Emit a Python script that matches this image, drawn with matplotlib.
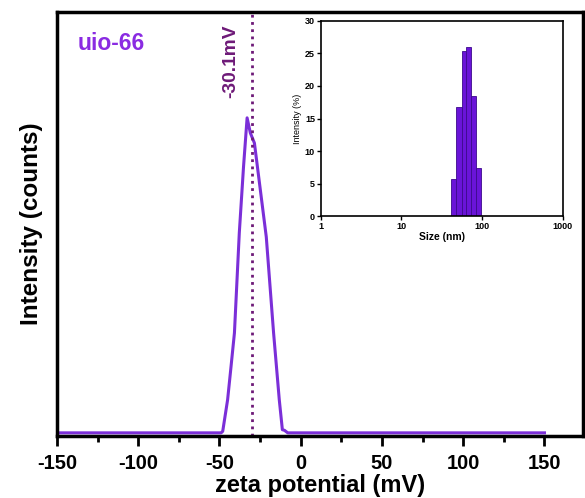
import numpy as np
import matplotlib
matplotlib.use("Agg")
import matplotlib.pyplot as plt
from matplotlib.ticker import MultipleLocator

plt.rcParams['font.family'] = ['Liberation Sans', 'DejaVu Sans']
plt.rcParams['font.weight'] = 'bold'
plt.rcParams['axes.unicode_minus'] = False

# zeta potential distribution (normalised counts)
zeta_mv = [-150, -100, -60, -49, -48, -45, -42.9, -40.8, -37.8, -35.2, -33, -31,
           -28.5, -21.2, -16.7, -13.2, -11.3, -10, -8, 0, 50, 100, 150]
intensity = [0, 0, 0, 0, 0.005, 0.105, 0.21, 0.317, 0.635, 0.845, 1.0, 0.952,
             0.92, 0.622, 0.317, 0.105, 0.01, 0.008, 0, 0, 0, 0, 0]
zeta_peak = -30.1

# inset size distribution
size_edges = [41.8, 48.2, 56.1, 64.1, 74.0, 85.3, 98.4]
size_pct = [5.7, 16.7, 25.4, 26.0, 18.5, 7.4]

line_col = '#7b2fd8'
dot_col = '#6e1a78'

fig = plt.figure(figsize=(5.85, 4.98), dpi=100)
ax = fig.add_axes([0.0974, 0.1245, 0.9, 0.8514])
ax.plot(zeta_mv, intensity, color=line_col, lw=2.2)
ax.axvline(zeta_peak, color=dot_col, lw=2, ls=(0, (1, 1.6)))
ax.set_xlim(-150, 174)
ax.set_ylim(-0.01, 1.336)
ax.xaxis.set_major_locator(MultipleLocator(50))
ax.xaxis.set_minor_locator(MultipleLocator(25))
ax.tick_params(axis='x', which='major', direction='out', length=7, width=2,
               labelsize=14.5, pad=6)
ax.tick_params(axis='x', which='minor', direction='out', length=4, width=2)
ax.set_yticks([])
for s in ax.spines.values():
    s.set_linewidth(2.5)
ax.set_xlabel('zeta potential (mV)', fontsize=17, fontweight='bold', labelpad=1)
ax.set_ylabel('Intensity (counts)', fontsize=17.5, fontweight='bold', labelpad=10)
ax.text(0.04, 0.925, 'uio-66', transform=ax.transAxes, color='#8a2be2',
        fontsize=16.5, fontweight='bold', ha='left', va='center')
ax.text(zeta_peak - 8, 1.18, '-30.1mV', rotation=90, color=dot_col,
        fontsize=13.8, fontweight='bold', ha='right', va='center')

# inset
ins = fig.add_axes([0.548, 0.566, 0.414, 0.392])
widths = np.diff(size_edges)
ins.bar(size_edges[:-1], size_pct, width=widths, align='edge',
        color='#6a14d8', edgecolor='#3c0a8c', lw=0.6)
ins.set_xscale('log')
ins.set_xlim(1, 1000)
ins.set_ylim(0, 30)
ins.set_yticks([0, 5, 10, 15, 20, 25, 30])
ins.set_xticks([1, 10, 100, 1000])
ins.set_xticklabels(['1', '10', '100', '1000'])
ins.minorticks_off()
ins.tick_params(direction='out', length=3, width=1, labelsize=6.5, pad=1)
for s in ins.spines.values():
    s.set_linewidth(1.2)
ins.set_xlabel('Size (nm)', fontsize=7.5, fontweight='bold', labelpad=1)
ins.set_ylabel('Intensity (%)', fontsize=6.5, fontweight='normal', labelpad=2)

fig.savefig('out.png', dpi=100)
